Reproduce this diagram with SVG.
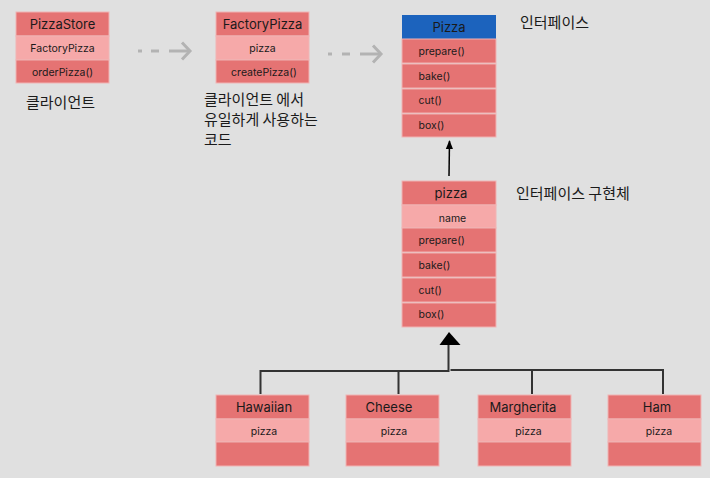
<svg xmlns="http://www.w3.org/2000/svg" width="710" height="478" viewBox="0 0 710 478">
<style>
.hd{fill:#e57373;stroke:#f0b4b4;stroke-width:1}
.lt{fill:#f6a9a9;stroke:#f0b4b4;stroke-width:1}
.bl{fill:#1c63bd}
.t{font-family:Inter,"Noto Sans","Noto Sans CJK KR",sans-serif;fill:#1a1a1a}
.h{font-size:13px;text-anchor:middle}
.s{font-size:10.5px}
.c{text-anchor:middle}
.k{font-family:"Noto Sans CJK KR","Noto Sans",sans-serif;font-size:15px;fill:#1a1a1a}
.dash{fill:none;stroke:#b3b3b3;stroke-width:3}
.chev{fill:none;stroke:#b3b3b3;stroke-width:3}
.ln{fill:none;stroke:#333;stroke-width:2}
</style>
<defs>
<marker id="ah" viewBox="0 0 10 10" refX="9" refY="5" markerWidth="6" markerHeight="6" orient="auto"><path d="M0,1 L10,5 L0,9 z" fill="#000"/></marker>
</defs>
<rect width="710" height="478" fill="#e0e0e0"/>

<g id="PizzaStore">
<rect class="hd" x="16" y="12" width="93" height="24"/>
<rect class="lt" x="16" y="36" width="93" height="24"/>
<rect class="hd" x="16" y="60" width="93" height="23"/>
<text class="t h" x="62.5" y="29">PizzaStore</text>
<text class="t s c" x="62.5" y="52">FactoryPizza</text>
<text class="t s c" x="62.5" y="76">orderPizza()</text>
</g>
<text class="k" x="26" y="108">클라이언트</text>

<g id="FactoryPizza">
<rect class="hd" x="216" y="12" width="93" height="24"/>
<rect class="lt" x="216" y="36" width="93" height="24"/>
<rect class="hd" x="216" y="60" width="93" height="23"/>
<text class="t h" x="262.5" y="29">FactoryPizza</text>
<text class="t s c" x="262.5" y="52">pizza</text>
<text class="t s c" x="264" y="76">createPizza()</text>
</g>
<text class="k" x="204" y="105">클라이언트 에서</text>
<text class="k" x="204" y="125">유일하게 사용하는</text>
<text class="k" x="204" y="145">코드</text>

<g id="PizzaInterface">
<rect class="bl" x="402" y="15" width="94" height="24"/>
<rect class="hd" x="402" y="39" width="94" height="24"/>
<rect class="hd" x="402" y="64" width="94" height="24"/>
<rect class="hd" x="402" y="89" width="94" height="24"/>
<rect class="hd" x="402" y="114" width="94" height="23"/>
<text class="t h" x="449" y="32">Pizza</text>
<text class="t s" x="418.5" y="55">prepare()</text>
<text class="t s" x="418.5" y="80">bake()</text>
<text class="t s" x="418.5" y="104">cut()</text>
<text class="t s" x="418.5" y="129">box()</text>
</g>
<text class="k" x="520" y="28">인터페이스</text>

<g id="pizza">
<rect class="hd" x="402" y="181" width="94" height="24"/>
<rect class="lt" x="402" y="205" width="94" height="23"/>
<rect class="hd" x="402" y="228" width="94" height="24"/>
<rect class="hd" x="402" y="253" width="94" height="24"/>
<rect class="hd" x="402" y="278" width="94" height="24"/>
<rect class="hd" x="402" y="303" width="94" height="24"/>
<text class="t h" x="451" y="197.5">pizza</text>
<text class="t s c" x="452.5" y="222">name</text>
<text class="t s" x="418.5" y="244">prepare()</text>
<text class="t s" x="418.5" y="269">bake()</text>
<text class="t s" x="418.5" y="293.5">cut()</text>
<text class="t s" x="418.5" y="318">box()</text>
</g>
<text class="k" x="516" y="199">인터페이스 구현체</text>

<g id="Hawaiian">
<rect class="hd" x="216" y="395" width="93" height="24"/>
<rect class="lt" x="216" y="419" width="93" height="23"/>
<rect class="hd" x="216" y="442" width="93" height="24"/>
<text class="t h" x="264" y="412">Hawaiian</text>
<text class="t s c" x="264" y="435">pizza</text>
</g>
<g id="Cheese">
<rect class="hd" x="346" y="395" width="93" height="24"/>
<rect class="lt" x="346" y="419" width="93" height="23"/>
<rect class="hd" x="346" y="442" width="93" height="24"/>
<text class="t h" x="389" y="412">Cheese</text>
<text class="t s c" x="394" y="435">pizza</text>
</g>
<g id="Margherita">
<rect class="hd" x="478" y="395" width="93" height="24"/>
<rect class="lt" x="478" y="419" width="93" height="23"/>
<rect class="hd" x="478" y="442" width="93" height="24"/>
<text class="t h" x="523" y="412">Margherita</text>
<text class="t s c" x="528.5" y="435">pizza</text>
</g>
<g id="Ham">
<rect class="hd" x="608" y="395" width="93" height="24"/>
<rect class="lt" x="608" y="419" width="93" height="23"/>
<rect class="hd" x="608" y="442" width="93" height="24"/>
<text class="t h" x="657" y="412">Ham</text>
<text class="t s c" x="659" y="435">pizza</text>
</g>

<g id="connectors">
<path class="dash" d="M138,51 H142 M151,51 H159 M169,51 H189"/>
<polyline class="chev" points="182,42.5 190,51 182,59.5"/>
<path class="dash" d="M328,54 H332 M342,54 H350 M360,54 H380"/>
<polyline class="chev" points="373,45.5 381,54 373,62.5"/>
<line x1="449" y1="176" x2="449.5" y2="141" stroke="#000" stroke-width="1.5" marker-end="url(#ah)"/>
<polygon points="449,332 439.5,345 460.5,345" fill="#000"/>
<polyline class="ln" points="260.5,394 260.5,371 448.5,371 448.5,345"/>
<polyline class="ln" points="450.5,370 663,370 663,394"/>
<line class="ln" x1="398.5" y1="371" x2="398.5" y2="394"/>
<line class="ln" x1="532" y1="370" x2="532" y2="394"/>
</g>
</svg>
